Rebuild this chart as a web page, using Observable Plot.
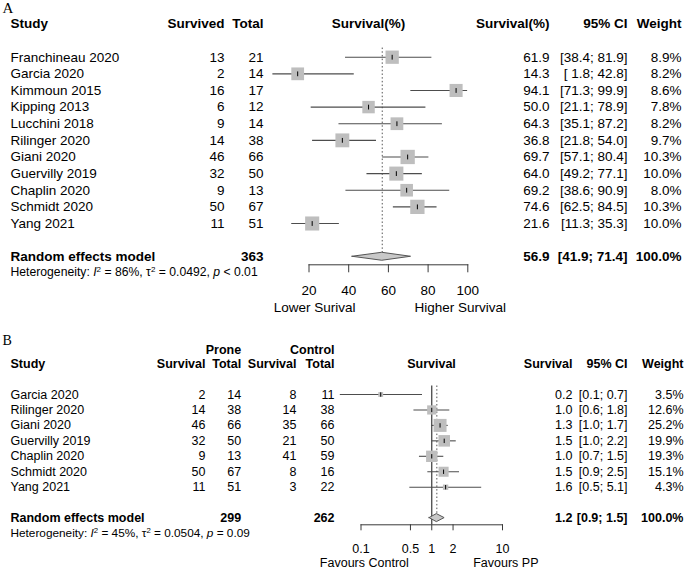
<!DOCTYPE html>
<html><head><meta charset="utf-8">
<script src="https://cdn.jsdelivr.net/npm/d3@7"></script>
<script src="https://cdn.jsdelivr.net/npm/@observablehq/plot@0.6"></script>
<style>
body{margin:0;background:#fff;}
#chart{width:685px;}
#chart svg{display:block;}
</style></head><body><div id="chart"></div>
<script>
// ---------- Panel A data ----------
const studiesA = ["Franchineau 2020","Garcia 2020","Kimmoun 2015","Kipping 2013","Lucchini 2018","Rilinger 2020","Giani 2020","Guervilly 2019","Chaplin 2020","Schmidt 2020","Yang 2021"];
const survivedA = [13,2,16,6,9,14,46,32,9,50,11];
const totalA = [21,14,17,12,14,38,66,50,13,67,51];
const survA = [61.9,14.3,94.1,50.0,64.3,36.8,69.7,64.0,69.2,74.6,21.6];
const lowerA = [38.4,1.8,71.3,21.1,35.1,21.8,57.1,49.2,38.6,62.5,11.3];
const upperA = [81.9,42.8,99.9,78.9,87.2,54.0,80.4,77.1,90.9,84.5,35.3];
const weightA = [8.9,8.2,8.6,7.8,8.2,9.7,10.3,10.0,8.0,10.3,10.0];
const pooledA = [56.9,41.9,71.4];
const pooledTotalA = 363;
const hetA = [86,"0.0492","< 0.01"];
const ticksA = [20,40,60,80,100];

// ---------- Panel B data ----------
const studiesB = ["Garcia 2020","Rilinger 2020","Giani 2020","Guervilly 2019","Chaplin 2020","Schmidt 2020","Yang 2021"];
const proneSurvB = [2,14,46,32,9,50,11];
const proneTotalB = [14,38,66,50,13,67,51];
const ctrlSurvB = [8,14,35,21,41,8,3];
const ctrlTotalB = [11,38,66,50,59,16,22];
const estB = [0.19,1.0,1.31,1.5,1.0,1.47,1.57];
const lowerB = [0.051,0.56,1.0,1.02,0.67,0.88,0.49];
const upperB = [0.74,1.8,1.71,2.22,1.48,2.47,5.08];
const weightB = [3.5,12.6,25.2,19.9,19.3,15.1,4.3];
const pooledB = [1.18,0.93,1.52];
const pooledTotalsB = [299,262];
const hetB = [45,"0.0504","= 0.09"];
const ticksB = [0.1,0.5,1,2,10];

// ---------- styles ----------
const FONT = "'Liberation Sans', Arial, Helvetica, sans-serif";
const SERIF = "'Liberation Serif', 'Times New Roman', serif";
const lineCol = "#4d4d4d";
const axisCol = "#3a3a3a";
const sqFill = "#bebebe";
const vtick = {draw(ctx, size){ const r = Math.sqrt(size/Math.PI); ctx.moveTo(0,-r); ctx.lineTo(0,r); }};

function makeHelpers(mL, fs) {
  const col = (data, text, X, anchor, extra = {}) =>
    Plot.text(data, {y: "i", text, frameAnchor: "left", dx: X - mL, textAnchor: anchor, fontSize: fs, fill: "#000", ...extra});
  const lab = (label, X, yIdx, anchor, extra = {}) =>
    Plot.text([label], {text: d => d, y: yIdx, frameAnchor: "left", dx: X - mL, textAnchor: anchor, fontSize: fs, fill: "#000", fontWeight: "bold", ...extra});
  return {col, lab};
}
function ciFormatter(los) {
  const w = d3.max(los, v => v.toFixed(1).length);
  return (lo, hi) => "[" + lo.toFixed(1).padStart(w, " ") + "; " + hi.toFixed(1) + "]";
}

function richHet(svg, het, supSize) {
  d3.select(svg).selectAll("text").each(function() {
    if (!this.textContent.startsWith("Heterogeneity:")) return;
    const t = d3.select(this);
    t.text("");
    const segs = [["Heterogeneity: ",""],["I","i"],["2","sup"],[` = ${het[0]}%, τ`,""],["2","sup"],[` = ${het[1]}, `,""],["p","i"],[` ${het[2]}`,""]];
    let up = false;
    for (const [s, k] of segs) {
      const sp = t.append("tspan").text(s);
      if (k === "i") sp.attr("font-style","italic");
      if (k === "sup") { sp.attr("font-size", supSize + "px").attr("dy", -4); up = true; }
      else if (up) { sp.attr("dy", 4); up = false; }
    }
  });
}

// ---------- Panel A ----------
const FSA = 13.5;
const mLA = 308.5, mRA = 685 - 467.3, hA = 318, axisYA = 264.3;
const rowY0A = 56.7, stepA = 16.63;
const rowsA = studiesA.map((s, i) => ({i, study: s, surv: survivedA[i], total: totalA[i], est: survA[i], lo: lowerA[i], hi: upperA[i], w: weightA[i]}));
const poolIdxA = 12;
const dhA = 0.24;
const diamondA = [
  {x: pooledA[1], y1: poolIdxA, y2: poolIdxA},
  {x: pooledA[0], y1: poolIdxA - dhA, y2: poolIdxA + dhA},
  {x: pooledA[2], y1: poolIdxA, y2: poolIdxA}
];
const ciA = ciFormatter(lowerA);
const hA_ = makeHelpers(mLA, FSA);

const svgA = Plot.plot({
  width: 685, height: hA,
  marginLeft: mLA, marginRight: mRA, marginTop: 0, marginBottom: hA - axisYA,
  style: {fontFamily: FONT, fontSize: FSA + "px", color: "#000", background: "#fff"},
  x: {type: "linear", domain: [20, 100]},
  y: {type: "linear", domain: [0, 10], range: [rowY0A, rowY0A + 10 * stepA], axis: null},
  r: {type: "sqrt", domain: [0, d3.max(weightA)], range: [0, 14.3 / Math.sqrt(Math.PI)]},
  marks: [
    Plot.ruleX([pooledA[0]], {y1: -0.55, y2: poolIdxA - dhA, stroke: "#555", strokeDasharray: "1.5,2.2"}),
    Plot.ruleY(rowsA, {y: "i", x1: "lo", x2: "hi", stroke: lineCol, strokeWidth: 1.1}),
    Plot.dot(rowsA, {x: "est", y: "i", r: "w", symbol: "square", fill: sqFill, stroke: null}),
    Plot.dot(rowsA, {x: "est", y: "i", r: 2.4, symbol: vtick, stroke: "#000", strokeWidth: 1, fill: "none"}),
    Plot.areaY(diamondA, {x: "x", y1: "y1", y2: "y2", fill: "#c8c8c8", stroke: "#555", strokeWidth: 1}),
    Plot.frame({anchor: "bottom", stroke: axisCol}),
    Plot.axisX({ticks: ticksA, tickFormat: d => String(d), tickSize: 8, tickPadding: 13, label: null, fontSize: FSA, stroke: axisCol}),
    hA_.lab("A", 2, -2.93, "start", {fontFamily: SERIF, fontWeight: "normal", fontSize: 15}),
    hA_.lab("Study", 10, -2, "start"),
    hA_.lab("Survived", 224, -2, "end"),
    hA_.lab("Total", 263, -2, "end"),
    hA_.lab("Survival(%)", 368, -2, "middle"),
    hA_.lab("Survival(%)", 549, -2, "end"),
    hA_.lab("95% CI", 627, -2, "end"),
    hA_.lab("Weight", 681, -2, "end"),
    hA_.col(rowsA, "study", 10, "start"),
    hA_.col(rowsA, "surv", 224, "end"),
    hA_.col(rowsA, "total", 263, "end"),
    hA_.col(rowsA, d => d.est.toFixed(1), 549, "end"),
    hA_.col(rowsA, d => ciA(d.lo, d.hi), 627, "end"),
    hA_.col(rowsA, d => d.w.toFixed(1) + "%", 681, "end"),
    hA_.lab("Random effects model", 10, poolIdxA, "start"),
    hA_.lab(String(pooledTotalA), 263, poolIdxA, "end"),
    hA_.lab(pooledA[0].toFixed(1), 549, poolIdxA, "end"),
    hA_.lab(ciA(pooledA[1], pooledA[2]), 627, poolIdxA, "end"),
    hA_.lab("100.0%", 681, poolIdxA, "end"),
    hA_.lab(`Heterogeneity: I2 = ${hetA[0]}%, τ2 = ${hetA[1]}, p ${hetA[2]}`, 10, 12.95, "start", {fontWeight: "normal", fontSize: 12.2}),
    hA_.lab("Lower Surival", 355, 15.07, "end", {fontWeight: "normal"}),
    hA_.lab("Higher Survival", 414, 15.07, "start", {fontWeight: "normal"})
  ]
});
richHet(svgA, hetA, 8);

// ---------- Panel B ----------
const FSB = 12.5;
const mLB = 360.5, mRB = 685 - 502, hB = 251, axisYB = 524.3 - 318;
const rowY0B = 394 - 318, stepB = 15.45;
const rowsB = studiesB.map((s, i) => ({i, study: s, ps: proneSurvB[i], pt: proneTotalB[i], cs: ctrlSurvB[i], ct: ctrlTotalB[i], est: estB[i], lo: lowerB[i], hi: upperB[i], w: weightB[i]}));
const poolIdxB = 8;
const dhB = 0.26;
const diamondB = [
  {x: pooledB[1], y1: poolIdxB, y2: poolIdxB},
  {x: pooledB[0], y1: poolIdxB - dhB, y2: poolIdxB + dhB},
  {x: pooledB[2], y1: poolIdxB, y2: poolIdxB}
];
const ciB = ciFormatter(lowerB);
const hB_ = makeHelpers(mLB, FSB);

const svgB = Plot.plot({
  width: 685, height: hB,
  marginLeft: mLB, marginRight: mRB, marginTop: rowY0B - 0.55 * stepB, marginBottom: hB - axisYB,
  style: {fontFamily: FONT, fontSize: FSB + "px", color: "#000", background: "#fff"},
  x: {type: "log", domain: [0.1, 10]},
  y: {type: "linear", domain: [0, 6], range: [rowY0B, rowY0B + 6 * stepB], axis: null},
  r: {type: "sqrt", domain: [0, d3.max(weightB)], range: [0, 13 / Math.sqrt(Math.PI)]},
  marks: [
    Plot.ruleX([1], {stroke: axisCol, strokeWidth: 1.2}),
    Plot.ruleX([pooledB[0]], {y1: -0.55, y2: poolIdxB - dhB, stroke: "#555", strokeDasharray: "1.5,2.2"}),
    Plot.ruleY(rowsB, {y: "i", x1: "lo", x2: "hi", stroke: lineCol, strokeWidth: 1.1}),
    Plot.dot(rowsB, {x: "est", y: "i", r: "w", symbol: "square", fill: sqFill, stroke: null}),
    Plot.dot(rowsB, {x: "est", y: "i", r: 2.2, symbol: vtick, stroke: "#000", strokeWidth: 1, fill: "none"}),
    Plot.areaY(diamondB, {x: "x", y1: "y1", y2: "y2", fill: "#c8c8c8", stroke: "#555", strokeWidth: 1}),
    Plot.frame({anchor: "bottom", stroke: axisCol}),
    Plot.axisX({ticks: ticksB, tickFormat: d => String(d), tickSize: 6, tickPadding: 13, label: null, fontSize: FSB, stroke: axisCol}),
    hB_.lab("B", 2, -3.5, "start", {fontFamily: SERIF, fontWeight: "normal", fontSize: 14}),
    hB_.lab("Prone", 240.7, -2.91, "end"),
    hB_.lab("Control", 334, -2.91, "end"),
    hB_.lab("Study", 10, -2, "start"),
    hB_.lab("Survival", 205, -2, "end"),
    hB_.lab("Total", 240.7, -2, "end"),
    hB_.lab("Survival", 296, -2, "end"),
    hB_.lab("Total", 334, -2, "end"),
    hB_.lab("Survival", 431, -2, "middle"),
    hB_.lab("Survival", 572, -2, "end"),
    hB_.lab("95% CI", 627, -2, "end"),
    hB_.lab("Weight", 683, -2, "end"),
    hB_.col(rowsB, "study", 10, "start"),
    hB_.col(rowsB, "ps", 205, "end"),
    hB_.col(rowsB, "pt", 240.7, "end"),
    hB_.col(rowsB, "cs", 296, "end"),
    hB_.col(rowsB, "ct", 334, "end"),
    hB_.col(rowsB, d => d.est.toFixed(1), 572, "end"),
    hB_.col(rowsB, d => ciB(d.lo, d.hi), 627, "end"),
    hB_.col(rowsB, d => d.w.toFixed(1) + "%", 683, "end"),
    hB_.lab("Random effects model", 10, poolIdxB, "start"),
    hB_.lab(String(pooledTotalsB[0]), 240.7, poolIdxB, "end"),
    hB_.lab(String(pooledTotalsB[1]), 334, poolIdxB, "end"),
    hB_.lab(pooledB[0].toFixed(1), 572, poolIdxB, "end"),
    hB_.lab(ciB(pooledB[1], pooledB[2]), 627, poolIdxB, "end"),
    hB_.lab("100.0%", 683, poolIdxB, "end"),
    hB_.lab(`Heterogeneity: I2 = ${hetB[0]}%, τ2 = ${hetB[1]}, p ${hetB[2]}`, 10, 8.97, "start", {fontWeight: "normal", fontSize: 11.8}),
    hB_.lab("Favours Control", 408.3, 10.9, "end", {fontWeight: "normal"}),
    hB_.lab("Favours PP", 472.7, 10.9, "start", {fontWeight: "normal"})
  ]
});
richHet(svgB, hetB, 7.8);

const chart = document.getElementById("chart");
chart.appendChild(svgA);
chart.appendChild(svgB);
</script></body></html>
